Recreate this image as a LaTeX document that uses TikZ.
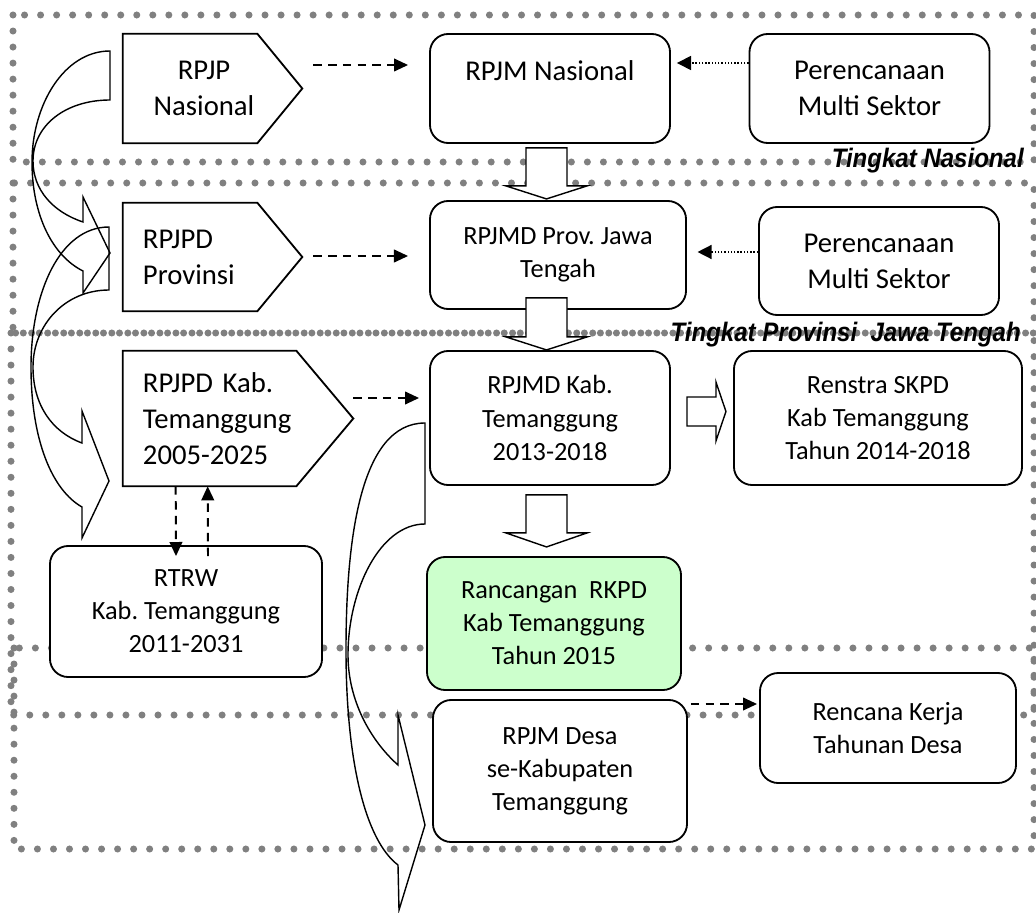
\documentclass[tikz,border=0pt]{standalone}
\usepackage{fontspec}
\setmainfont{Carlito}
\newfontfamily\tingkatfont[FakeStretch=0.9]{Liberation Sans}
\usepackage{xcolor}
\usepackage{tikz}
\usetikzlibrary{arrows.meta,calc}

\definecolor{rkpdgreen}{RGB}{204,255,204}
\newcommand{\boxbigfont}{\fontsize{20.4}{25.5}\selectfont}
\newcommand{\boxsmallfont}{\fontsize{18.7}{23.5}\selectfont}
\frenchspacing

\begin{document}
\begin{tikzpicture}[
            x=0.025cm, y=-0.025cm,
            dot_frame/.style={draw=black!50, line width=5pt, line cap=round, dash pattern=on 0pt off 11.4pt},
            plan_box/.style={draw, line width=1.3pt, fill=white, rounded corners=13pt, align=center, inner sep=0pt, font=\boxsmallfont},
            big_txt/.style={font=\boxbigfont},
            pent_box/.style={inner sep=0pt, font=\boxbigfont},
            pent_line/.style={line width=1.3pt},
            block_arrow/.style={draw, line width=1pt, fill=white},
            curve_arrow/.style={draw, line width=1pt},
            dash_arrow/.style={-{Triangle[length=10pt, width=9pt]}, line width=1.4pt, dash pattern=on 6pt off 4.5pt},
            dot_arrow/.style={-{Triangle[length=10pt, width=10pt]}, line width=1pt, dash pattern=on 1pt off 1.3pt},
            tingkat_label/.style={font=\tingkatfont\fontsize{19}{22}\selectfont\bfseries\itshape, inner sep=0pt}
        ]

        \useasboundingbox (0,0) rectangle (1036,912);

        % Dotted frames for each planning level
        \draw[dot_frame] (13,15) rectangle (1034,162);
        \draw[dot_frame] (13,183) rectangle (1034,333);
        \draw[dot_frame] (11,333) rectangle (1034,715);
        \draw[dot_frame] (14,648) rectangle (1034,849);

        % Curved block arrows (long term plans handed down)
        \draw[curve_arrow] (110,51) .. controls (64,51) and (32,105) .. (32,162)
            .. controls (32,216) and (53,256) .. (83,271) -- (83,293) -- (110,253) -- (83,197) -- (83,222)
            .. controls (53,212) and (33,190) .. (33,161) .. controls (33,125) and (66,100) .. (110,100) -- cycle;
        \draw[curve_arrow] (109,227) .. controls (60,227) and (31,292) .. (31,367)
            .. controls (31,440) and (52,490) .. (82,507) -- (82,538) -- (109,481) -- (82,411) -- (82,443)
            .. controls (52,432) and (33,405) .. (33,367) .. controls (33,325) and (65,290) .. (109,290) -- cycle;
        \draw[curve_arrow] (425,423) .. controls (360,423) and (346,540) .. (346,650)
            .. controls (346,760) and (365,840) .. (398,865) -- (399,910) -- (425,825) -- (398,715) -- (398,765)
            .. controls (370,740) and (348,700) .. (348,655) .. controls (348,590) and (380,524) .. (425,524) -- cycle;

        % National level
        \node[pent_box, minimum width=4.05cm, minimum height=2.725cm, align=center] (rpjp_nas) at (204,88.5) {RPJP\\Nasional};
        \node[plan_box, big_txt, minimum width=6cm, minimum height=2.725cm] (rpjm_nas) at (550,88.5) {RPJM Nasional\\~};
        \node[plan_box, big_txt, minimum width=6cm, minimum height=2.725cm] (per_nas) at (869.5,88.5) {Perencanaan\\Multi Sektor};

        % Province level
        \node[pent_box, minimum width=4.475cm, minimum height=2.7cm, text width=3.475cm, align=left] (rpjpd_prov) at (212.5,257) {RPJPD\\Provinsi};
        \node[plan_box, minimum width=6.4cm, minimum height=2.7cm] (rpjmd_prov) at (558,255) {RPJMD Prov. Jawa\\Tengah};
        \node[plan_box, big_txt, minimum width=6cm, minimum height=2.7cm] (per_prov) at (879,261) {Perencanaan\\Multi Sektor};

        % Regency level
        \node[pent_box, minimum width=5.75cm, minimum height=3.375cm, text width=4.75cm, align=left] (rpjpd_kab) at (238,418.5) {RPJPD Kab.\\Temanggung\\2005-2025};
        \node[plan_box, minimum width=6cm, minimum height=3.35cm] (rpjmd_kab) at (550,418) {RPJMD Kab.\\Temanggung\\2013-2018};
        \node[plan_box, minimum width=7.2cm, minimum height=3.35cm] (renstra) at (878,418) {Renstra SKPD\\Kab Temanggung\\Tahun 2014-2018};
        \node[plan_box, fill=rkpdgreen, minimum width=6.35cm, minimum height=3.325cm] (rancangan) at (554,623.5) {Rancangan\ \ RKPD\\Kab Temanggung\\Tahun 2015};
        \node[plan_box, minimum width=6.8cm, minimum height=3.275cm] (rtrw) at (186,611.5) {RTRW\\Kab. Temanggung\\2011-2031};

        % Village level
        \node[plan_box, minimum width=6.35cm, minimum height=3.55cm] (rpjm_desa) at (560,771) {RPJM Desa\\se-Kabupaten\\Temanggung};
        \node[plan_box, minimum width=6.4cm, minimum height=2.75cm] (rkt_desa) at (888,728) {Rencana Kerja\\Tahunan Desa};

        % Pentagon outlines of the long term plans
        \draw[pent_line] (rpjp_nas.north west) -- ($(rpjp_nas.north east)+(-28,0)$) -- ($(rpjp_nas.east)+(17,0)$) -- ($(rpjp_nas.south east)+(-28,0)$) -- (rpjp_nas.south west) -- cycle;
        \draw[pent_line] (rpjpd_prov.north west) -- ($(rpjpd_prov.north east)+(-45,0)$) -- (rpjpd_prov.east) -- ($(rpjpd_prov.south east)+(-45,0)$) -- (rpjpd_prov.south west) -- cycle;
        \draw[pent_line] (rpjpd_kab.north west) -- ($(rpjpd_kab.north east)+(-57,0)$) -- (rpjpd_kab.east) -- ($(rpjpd_kab.south east)+(-57,0)$) -- (rpjpd_kab.south west) -- cycle;

        % Hollow block arrows between medium term plans
        \draw[block_arrow] ($(rpjm_nas.south)+(-24,4)$) -- ++(41,0) -- ++(0,38) -- ++(20,0) -- ++(-40.5,13) -- ++(-40.5,-13) -- ++(20,0) -- cycle;
        \draw[block_arrow] ($(rpjmd_prov.south)+(-32,-12)$) -- ++(41,0) -- ++(0,39) -- ++(20,0) -- ++(-40.5,13) -- ++(-40.5,-13) -- ++(20,0) -- cycle;
        \draw[block_arrow] ($(rpjmd_kab.south)+(-24,9)$) -- ++(41,0) -- ++(0,38) -- ++(20,0) -- ++(-40.5,14) -- ++(-40.5,-14) -- ++(20,0) -- cycle;
        \draw[block_arrow] ($(rpjmd_kab.east)+(16,-21)$) -- ++(29,0) -- ++(0,-15) -- ++(10,29.5) -- ++(-10,29.5) -- ++(0,-15) -- ++(-29,0) -- cycle;

        % Dashed references
        \draw[dash_arrow] ($(rpjp_nas.east)+(28,-23.5)$) -- ($(rpjm_nas.west)+(-21,-23.5)$);
        \draw[dash_arrow] ($(rpjpd_prov.east)+(11,-1)$) -- ($(rpjmd_prov.west)+(-21,1)$);
        \draw[dash_arrow] ($(rpjpd_kab.east)+(0,-20.5)$) -- ($(rpjmd_kab.west)+(-10,-20)$);
        \draw[dash_arrow] ($(rpjpd_kab.south west)+(53,0)$) -- ($(rtrw.north)+(-10,11)$);
        \draw[dash_arrow] ($(rtrw.north)+(22,11)$) -- ($(rpjpd_kab.south west)+(85,0)$);
        \draw[dash_arrow] ($(rpjm_desa.east)+(3,-67)$) -- ($(rkt_desa.west)+(-2,-24)$);

        % Dotted inputs from sector planning
        \draw[dot_arrow] ($(per_nas.west)+(0,-25.5)$) -- ($(rpjm_nas.east)+(6,-25.5)$);
        \draw[dot_arrow] ($(per_prov.west)+(0,-9)$) -- ($(rpjmd_prov.east)+(10.6,-3)$);

        % Level labels
        \node[tingkat_label, anchor=base east] (lbl_nas) at (1024,168) {Tingkat Nasional};
        \node[tingkat_label, anchor=base east] (lbl_prov) at (1021,341) {Tingkat Provinsi\ \ Jawa Tengah};

\end{tikzpicture}
\end{document}
